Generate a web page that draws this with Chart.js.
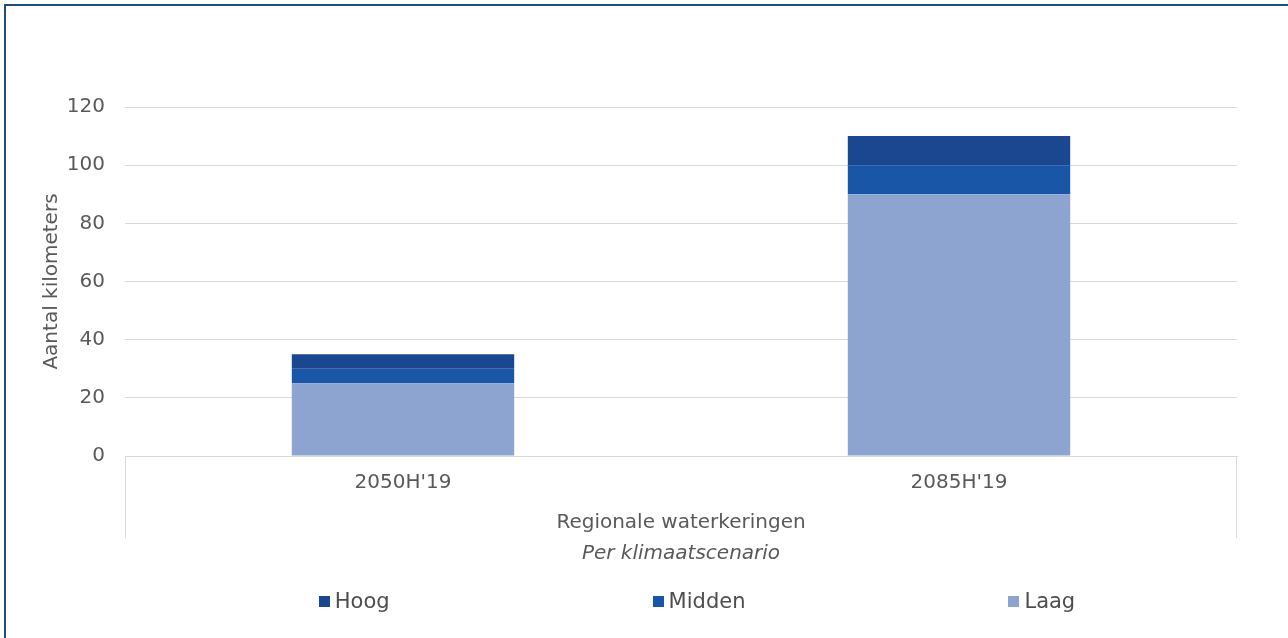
<!DOCTYPE html>
<html>
<head>
<meta charset="utf-8">
<script src="https://cdn.jsdelivr.net/npm/chart.js@4/dist/chart.umd.min.js"></script>
<style>
    html, body { margin: 0; padding: 0; background: #fff; }
    #wrap { position: relative; width: 1288px; height: 638px; overflow: hidden; }
    #frame { position: absolute; left: 4px; top: 4px; right: -10px; bottom: -10px; border-left: 2px solid #1f4e79; border-top: 2px solid #1f4e79; }
    #chart { position: absolute; left: 0; top: 0; }
    #legend { position: absolute; left: 106px; width: 1182px; top: 589px; display: flex; justify-content: center; gap: 263px;
        font-family: 'DejaVu Sans', Verdana, sans-serif; font-size: 21px; color: #4d4d4d; }
    #legend .item { display: flex; align-items: center; }
    #legend .box { width: 11px; height: 11px; margin-right: 5px; }
</style>
</head>
<body>
<div id="wrap">
    <div id="frame"></div>
    <canvas id="chart" width="1288" height="638"></canvas>
    <div id="legend"></div>
</div>
<script>
    const categories = [ "2050H'19", "2085H'19" ];
    const groupLabel = "Regionale waterkeringen";
    const laag = [ 25, 90 ];
    const midden = [ 5, 10 ];
    const hoog = [ 5, 10 ];
    const yTicks = [ 0, 20, 40, 60, 80, 100, 120 ];

    const textColor = "#595959";
    const fontFamily = "'DejaVu Sans', Verdana, sans-serif";

    // outer category level: label + separator lines below the axis
    const groupAxis = {
        id: "groupAxis",
        afterDraw(chart) {
            const ctx = chart.ctx;
            const area = chart.chartArea;
            const x = chart.scales.x;
            ctx.save();
            ctx.strokeStyle = "#d9d9d9";
            ctx.lineWidth = 1;
            ctx.beginPath();
            ctx.moveTo(area.left + 0.5, x.top);
            ctx.lineTo(area.left + 0.5, x.top + 82);
            ctx.moveTo(area.right - 0.5, x.top);
            ctx.lineTo(area.right - 0.5, x.top + 82);
            ctx.stroke();
            ctx.fillStyle = textColor;
            ctx.font = "20px " + fontFamily;
            ctx.textAlign = "center";
            ctx.textBaseline = "middle";
            ctx.fillText(groupLabel, (area.left + area.right) / 2, x.top + 67);
            ctx.restore();
        }
    };

    // legend spread out like the original (Hoog, Midden, Laag)
    const htmlLegend = {
        id: "htmlLegend",
        afterUpdate(chart) {
            const box = document.getElementById("legend");
            box.innerHTML = "";
            chart.data.datasets.slice().reverse().forEach(ds => {
                const item = document.createElement("div");
                item.className = "item";
                const sw = document.createElement("span");
                sw.className = "box";
                sw.style.background = ds.backgroundColor;
                const label = document.createElement("span");
                label.textContent = ds.label;
                item.appendChild(sw);
                item.appendChild(label);
                box.appendChild(item);
            });
        }
    };

    const data = {
        labels: categories,
        datasets: [ {
            label: "Laag",
            data: laag,
            backgroundColor: "#8ea4d0"
        }, {
            label: "Midden",
            data: midden,
            backgroundColor: "#1a56a8"
        }, {
            label: "Hoog",
            data: hoog,
            backgroundColor: "#1b4690"
        } ]
    };

    const config = {
        type: "bar",
        data,
        plugins: [ groupAxis, htmlLegend ],
        options: {
            responsive: false,
            animation: false,
            layout: {
                padding: { top: 107, right: 51, bottom: 60, left: 30 }
            },
            datasets: {
                bar: {
                    categoryPercentage: 1,
                    barPercentage: 0.4
                }
            },
            plugins: {
                legend: { display: false },
                tooltip: { enabled: false }
            },
            scales: {
                x: {
                    stacked: true,
                    grid: { display: false },
                    border: { color: "#d9d9d9" },
                    ticks: {
                        color: textColor,
                        padding: 7,
                        font: { family: fontFamily, size: 20 }
                    },
                    title: {
                        display: true,
                        text: "Per klimaatscenario",
                        color: textColor,
                        padding: { top: 40, bottom: 12 },
                        font: { family: fontFamily, size: 20, style: "italic" }
                    }
                },
                y: {
                    stacked: true,
                    min: 0,
                    max: 120,
                    afterBuildTicks(scale) {
                        scale.ticks = yTicks.map(v => ({ value: v }));
                    },
                    afterFit(scale) {
                        scale.width = 95;
                    },
                    grid: { color: "#d9d9d9", drawTicks: false },
                    border: { display: false },
                    ticks: {
                        color: textColor,
                        padding: 20,
                        font: { family: fontFamily, size: 20 }
                    },
                    title: {
                        display: true,
                        text: "Aantal kilometers",
                        color: textColor,
                        padding: { top: 10, bottom: 4 },
                        font: { family: fontFamily, size: 20 }
                    }
                }
            }
        }
    };

    new Chart(document.getElementById("chart"), config);
</script>
</body>
</html>
